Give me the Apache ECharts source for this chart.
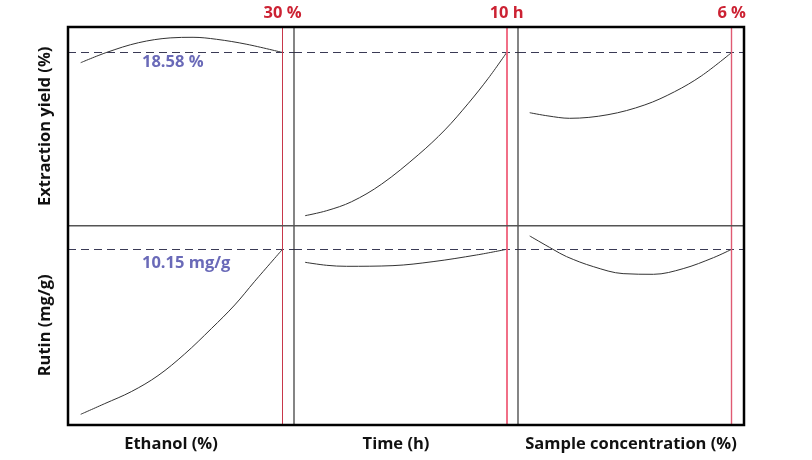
<!DOCTYPE html>
<html>
<head>
<meta charset="utf-8">
<script src="https://cdn.jsdelivr.net/npm/echarts@6/dist/echarts.min.js"></script>
<style>
  html, body { margin: 0; padding: 0; background: #fff; }
  #chart { width: 812px; height: 460px; }
</style>
</head>
<body>
<div id="chart"></div>
<script>
// ---------- data ----------
const factorNames = ['Ethanol (%)', 'Time (h)', 'Sample concentration (%)'];
const responseNames = ['Extraction yield (%)', 'Rutin (mg/g)'];
const optimumX = [30, 10, 6];
const optimumLabels = ['30 %', '10 h', '6 %'];
const responseTargets = [18.58, 10.15];
const targetLabels = ['18.58 %', '10.15 mg/g'];

// Extraction yield (%) vs factors
const yieldEthanolX = [0, 3.9, 8.6, 13.3, 16.7, 20.2, 24.7, 30];
const yieldEthanolY = [18.07, 18.59, 19.07, 19.31, 19.34, 19.24, 18.99, 18.58];
const yieldTimeX = [2, 2.86, 3.85, 5.04, 6.49, 7.55, 8.48, 9.27, 10];
const yieldTimeY = [10.42, 10.67, 11.12, 12.0, 13.46, 14.71, 16.04, 17.29, 18.58];
const yieldSampleX = [2, 2.36, 2.79, 3.55, 4.28, 4.87, 5.40, 6];
const yieldSampleY = [15.57, 15.41, 15.29, 15.47, 15.96, 16.62, 17.41, 18.58];

// Rutin (mg/g) vs factors
const rutinEthanolX = [0, 3.57, 7.52, 11.49, 15.46, 19.42, 22.9, 25.87, 30];
const rutinEthanolY = [5.20, 5.52, 5.88, 6.36, 7.01, 7.77, 8.48, 9.19, 10.15];
const rutinTimeX = [2, 2.86, 3.65, 5.49, 7.08, 8.81, 10];
const rutinTimeY = [9.76, 9.67, 9.64, 9.66, 9.78, 9.98, 10.15];
const rutinSampleX = [2, 2.46, 2.73, 3.26, 3.85, 4.45, 5.04, 5.64, 6];
const rutinSampleY = [10.55, 10.15, 9.93, 9.63, 9.42, 9.40, 9.57, 9.90, 10.15];

// axis extents (factor ranges with plot padding)
const xMins = [-1.89, 1.564, 1.768];
const xMaxs = [31.71, 10.449, 6.244];
const yMins = [9.92, 4.879];
const yMaxs = [19.855, 10.858];

const curves = [
  [[yieldEthanolX, yieldEthanolY], [yieldTimeX, yieldTimeY], [yieldSampleX, yieldSampleY]],
  [[rutinEthanolX, rutinEthanolY], [rutinTimeX, rutinTimeY], [rutinSampleX, rutinSampleY]]
];

// ---------- layout ----------
const L = 68, R = 744, T = 27, B = 425;
const colEdges = [68, 294, 518, 744];
const rowEdges = [27, 225.7, 425];
const FONT = '"Open Sans", "Noto Sans", sans-serif';
const FS = 16.5;
const redColors = ['#c8374a', '#f0607a', '#e05a72'];
const redWidths = [1, 1.8, 1.4];

const grids = [], xAxes = [], yAxes = [], series = [];
for (let r = 0; r < 2; r++) {
  for (let c = 0; c < 3; c++) {
    const idx = r * 3 + c;
    grids.push({
      left: colEdges[c], top: rowEdges[r],
      width: colEdges[c + 1] - colEdges[c], height: rowEdges[r + 1] - rowEdges[r],
      containLabel: false
    });
    xAxes.push({
      type: 'value', gridIndex: idx, min: xMins[c], max: xMaxs[c],
      axisLine: { show: false }, axisTick: { show: false }, axisLabel: { show: false },
      splitLine: { show: false },
      name: r === 1 ? factorNames[c] : '',
      nameLocation: 'middle', nameGap: 11,
      nameTextStyle: {
        fontFamily: FONT, fontWeight: 'bold', fontSize: FS, color: '#111',
        padding: c < 2 ? [0, 20, 0, 0] : [0, 0, 0, 0]
      }
    });
    yAxes.push({
      type: 'value', gridIndex: idx, min: yMins[r], max: yMaxs[r],
      axisLine: { show: false }, axisTick: { show: false }, axisLabel: { show: false },
      splitLine: { show: false },
      name: c === 0 ? responseNames[r] : '',
      nameLocation: 'middle', nameGap: 14, nameRotate: 90,
      nameTextStyle: { fontFamily: FONT, fontWeight: 'bold', fontSize: FS, color: '#111' }
    });
    const [xs, ys] = curves[r][c];
    series.push({
      type: 'line', xAxisIndex: idx, yAxisIndex: idx,
      data: xs.map((x, i) => [x, ys[i]]),
      smooth: 0.35, showSymbol: false, silent: true,
      lineStyle: { color: '#333', width: 1 },
      markLine: {
        silent: true, symbol: 'none', animation: false,
        data: [
          {
            yAxis: responseTargets[r],
            lineStyle: { type: [8, 5], color: '#3a3a55', width: 1 },
            label: { show: false }
          },
          {
            xAxis: optimumX[c],
            lineStyle: { type: 'solid', color: redColors[c], width: redWidths[c] },
            label: {
              show: r === 0, position: 'end', distance: 5,
              formatter: optimumLabels[c],
              fontFamily: FONT, fontWeight: 'bold', fontSize: FS, color: '#cc2233'
            }
          }
        ]
      }
    });
  }
}

const chart = echarts.init(document.getElementById('chart'), null, { renderer: 'canvas' });
chart.setOption({
  animation: false,
  backgroundColor: '#fff',
  grid: grids, xAxis: xAxes, yAxis: yAxes, series: series,
  graphic: [
    { type: 'line', z: 10, shape: { x1: colEdges[1], y1: T, x2: colEdges[1], y2: B }, style: { stroke: '#333', lineWidth: 1.2 } },
    { type: 'line', z: 10, shape: { x1: colEdges[2], y1: T, x2: colEdges[2], y2: B }, style: { stroke: '#333', lineWidth: 1.2 } },
    { type: 'line', z: 10, shape: { x1: L, y1: rowEdges[1], x2: R, y2: rowEdges[1] }, style: { stroke: '#555', lineWidth: 1.5 } },
    { type: 'rect', z: 11, shape: { x: L, y: T, width: R - L, height: B - T }, style: { fill: 'none', stroke: '#000', lineWidth: 2.5 } },
    { type: 'text', z: 12, left: 142, top: 54, style: { text: targetLabels[0], font: 'bold ' + FS + 'px ' + FONT, fill: '#6a6ab8' } },
    { type: 'text', z: 12, left: 142, top: 255, style: { text: targetLabels[1], font: 'bold ' + FS + 'px ' + FONT, fill: '#6a6ab8' } }
  ]
});
</script>
</body>
</html>
